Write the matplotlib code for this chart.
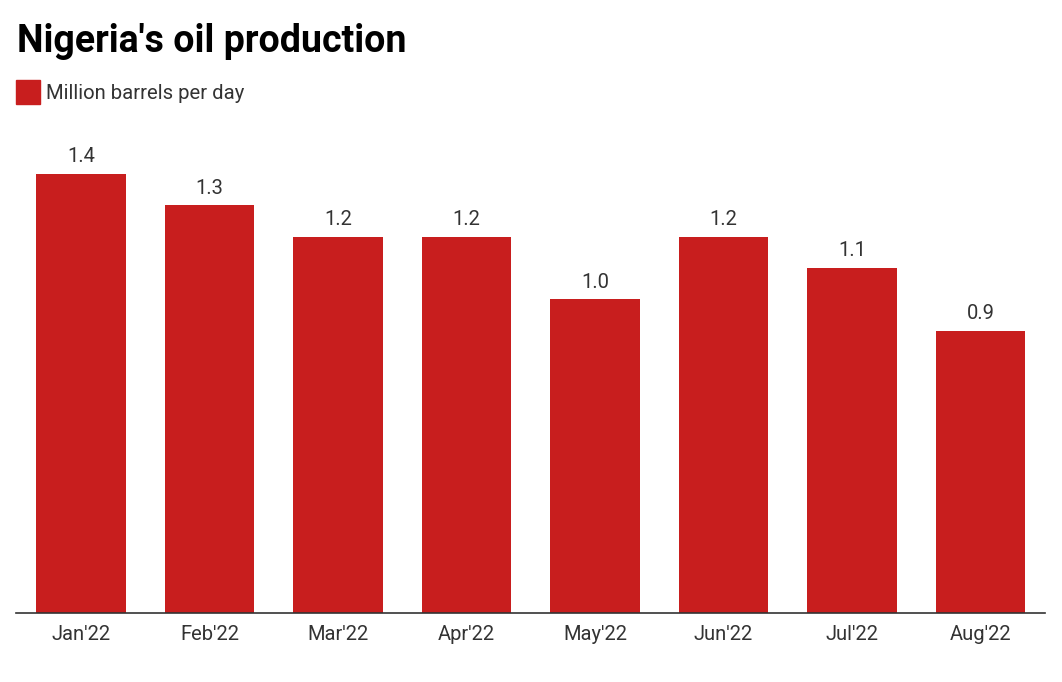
import matplotlib.pyplot as plt
from matplotlib.patches import Rectangle

plt.rcParams['font.family'] = ['Roboto', 'DejaVu Sans']

months = ["Jan'22", "Feb'22", "Mar'22", "Apr'22", "May'22", "Jun'22", "Jul'22", "Aug'22"]
production = [1.4, 1.3, 1.2, 1.2, 1.0, 1.2, 1.1, 0.9]

W, H = 1062, 682
bar_color = '#c81e1e'
text_color = '#333333'

fig = plt.figure(figsize=(W / 100, H / 100), dpi=100)

# axes placed in pixel coords: baseline y=613, left 16, right 1045, top 140
left, right, bottom_px, top_px = 16, 1045, 613, 140
ax = fig.add_axes([left / W, (H - bottom_px) / H, (right - left) / W, (bottom_px - top_px) / H])

x = range(len(months))
bars = ax.bar(x, production, width=0.70, color=bar_color, zorder=2)

px_per_unit = 313.6
ax.set_ylim(0, (bottom_px - top_px) / px_per_unit)
ax.set_xlim(-0.506, 7.502)

for b, v in zip(bars, production):
    ax.annotate(f"{v:.1f}", (b.get_x() + b.get_width() / 2, v),
                xytext=(0, 8.5), textcoords='offset points',
                ha='center', va='baseline', fontsize=14.5, color=text_color)

ax.set_xticks(list(x))
ax.set_xticklabels(months, fontsize=14.5, color=text_color)
ax.tick_params(axis='x', length=0, pad=9)
ax.set_yticks([])
for s in ['top', 'right', 'left']:
    ax.spines[s].set_visible(False)
ax.spines['bottom'].set_color('#333333')
ax.spines['bottom'].set_linewidth(1.2)

# title and legend
fig.text(17 / W, 1 - 52 / H, "Nigeria's oil production", fontsize=27,
         fontweight='bold', color='black', va='baseline', ha='left')
fig.patches.append(Rectangle((16 / W, 1 - 104 / H), 24 / W, 24 / H,
                             transform=fig.transFigure, color=bar_color))
fig.text(46 / W, 1 - 99 / H, "Million barrels per day", fontsize=14.6,
         color=text_color, va='baseline', ha='left')

fig.savefig('out.png', dpi=100)
